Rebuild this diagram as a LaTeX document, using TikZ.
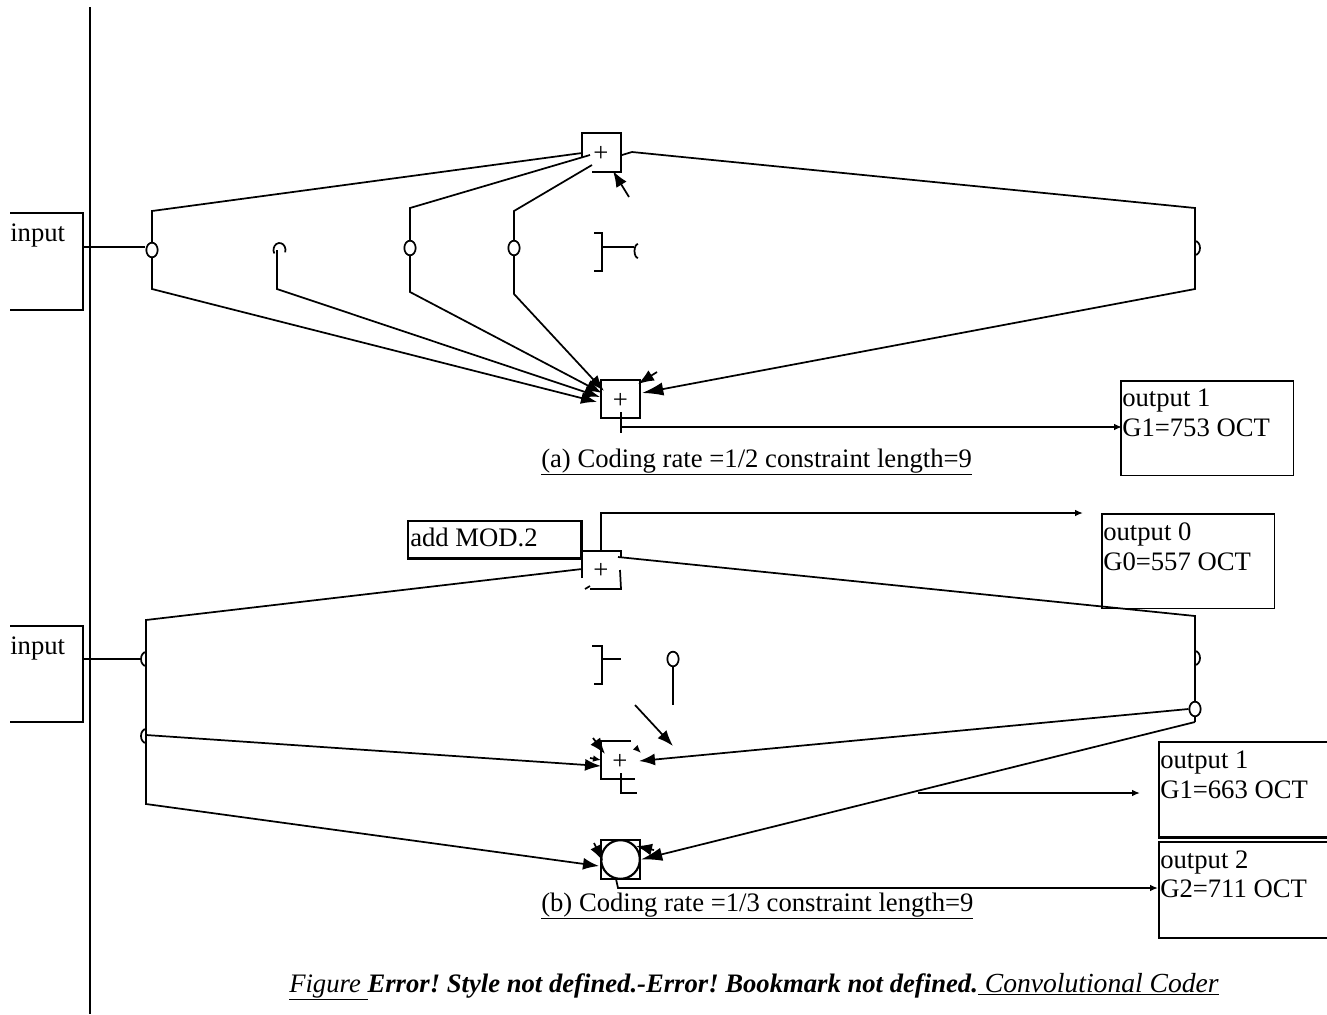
\documentclass[tikz,border=0pt]{standalone}
\usepackage{fontspec}
\setmainfont{Liberation Serif}
\frenchspacing
\usetikzlibrary{shapes.geometric,arrows.meta}
\tikzset{
  x=0.75pt,y=-0.75pt,
  wire/.style={line width=1.3pt,line join=miter},
  bigarrow/.style={wire,-{Latex[length=16pt,width=10pt]}},
  midarrow/.style={wire,-{Latex[length=12pt,width=9pt]}},
  smallarrow/.style={wire,-{Latex[length=6pt,width=5pt]}},
  tap/.style={ellipse,draw,line width=1.3pt,fill=white,inner sep=0pt,minimum width=8.5pt,minimum height=11pt},
  lbltext/.style={inner sep=0pt,anchor=base west,yshift=-0.75pt,font=\fontsize{20}{22.5}\selectfont,align=left},
  outbox/.style={draw,line width=1.3pt,anchor=north west,inner sep=0pt},
  captext/.style={inner sep=0pt,anchor=base west,yshift=-0.75pt,font=\fontsize{20}{22}\selectfont},
  plussign/.style={inner sep=0pt,font=\fontsize{20}{20}\selectfont},
}
\begin{document}
\begin{tikzpicture}
\useasboundingbox (0,0) rectangle (1327,1014);
\coordinate (railT) at (90,7); \coordinate (railB) at (90,1014);
\draw[wire] (railT) -- (railB);

% ---------- upper coder ----------
\coordinate (inAa) at (10,213); \coordinate (inAb) at (83,213); \coordinate (inAc) at (83,310); \coordinate (inAd) at (10,310);
\draw[wire] (inAa) -- (inAb) -- (inAc) -- (inAd);
\node[lbltext] (inAtxt) at (10,240) {input};
\node[tap] (a1) at (152,250) {};
\node[tap,draw=none,fill=none] (a2) at (277,250) {};
\node[tap] (a3) at (410,248) {};
\node[tap] (a4) at (514,248) {};
\coordinate (inAw) at (83,247);
\draw[wire] (inAw) -- (a1.west |- inAw);
\draw[wire] (274.3,253.5) arc[start angle=150,end angle=380,x radius=6,y radius=7];
\draw[wire] (1195,241) arc[start angle=-90,end angle=90,x radius=5,y radius=7];

\node[plussign] (pA) at (601,154) {+};
\coordinate (bAtl) at (582,133); \coordinate (bAtr) at (621,133); \coordinate (bAbr) at (621,172); \coordinate (bAbl) at (592,172); \coordinate (bAlb) at (582,157);
\draw[wire] (bAlb) -- (bAtl) -- (bAtr) -- (bAbr) -- (bAbl);
\coordinate (fbA) at (629,197); \coordinate (fbAe) at (613,171);
\draw[midarrow] (fbA) -- (fbAe);
\coordinate (t1) at (152,211); \coordinate (t3) at (410,208); \coordinate (t4) at (514,211);
\coordinate (u1) at (582,153); \coordinate (u3) at (590,155); \coordinate (u4) at (592,165);
\draw[wire] (a1.north) -- (t1) -- (u1);
\draw[wire] (a3.north) -- (t3) -- (u3);
\draw[wire] (a4.north) -- (t4) -- (u4);

\coordinate (rA0) at (622,155); \coordinate (rA1) at (632,152); \coordinate (rA2) at (1195,208); \coordinate (rA3) at (1195,289); \coordinate (rA4) at (642,393);
\draw[bigarrow] (rA0) -- (rA1) -- (rA2) -- (rA3) -- (rA4);

\coordinate (brAa) at (594,233); \coordinate (brAb) at (602,233); \coordinate (brAc) at (602,271); \coordinate (brAd) at (594,271);
\draw[wire] (brAa) -- (brAb) -- (brAc) -- (brAd);
\coordinate (brAm) at (602,247); \coordinate (brAe) at (634,247);
\draw[wire] (brAm) -- (brAe);
\draw[wire] (638,244) arc[start angle=270,end angle=90,x radius=3.5,y radius=7];

\node[draw,line width=1.3pt,minimum width=29pt,minimum height=28.5pt,inner sep=0pt] (sA) at (620.5,399) {};
\node[plussign] at (620.5,401) {+};
\coordinate (b1) at (152,289); \coordinate (b2) at (277,289); \coordinate (b3) at (410,292); \coordinate (b4) at (514,294);
\coordinate (v1) at (597,402); \coordinate (v2) at (600,397); \coordinate (v3) at (602,393); \coordinate (v4) at (604,391);
\draw[midarrow] (a1.south) -- (b1) -- (v1);
\draw[midarrow] (a2.center) -- (b2) -- (v2);
\draw[midarrow] (a3.south) -- (b3) -- (v3);
\draw[midarrow] (a4.south) -- (b4) -- (v4);
\coordinate (fbBs) at (657,372); \coordinate (fbBe) at (638,384);
\draw[midarrow] (fbBs) -- (fbBe);
\coordinate (stA) at (621,412); \coordinate (stAe) at (621,433);
\draw[wire] (stA) -- (stAe);
\node[outbox,minimum width=129.5pt,minimum height=71pt] (o1) at (1120,380) {};
\coordinate (oAs) at (621,427); \coordinate (oAe) at (1122,427);
\draw[smallarrow] (oAs) -- (oAe);
\node[lbltext] at (1122,405) {output 1};
\node[lbltext] at (1122,435) {G1=753 OCT};
\node[captext] at (541,466) {\underline{(a) Coding rate =1/2 constraint length=9}};

% ---------- lower coder ----------
\node[outbox,line width=1.8pt,minimum width=130pt,minimum height=28pt] (mod) at (407,520) {};
\node[lbltext] at (410,545) {add MOD.2};
\coordinate (upS) at (601,551); \coordinate (upC) at (601,513); \coordinate (upE) at (1083,513);
\draw[smallarrow] (upS) -- (upC) -- (upE);
\node[outbox,minimum width=129.5pt,minimum height=71pt] (o0) at (1101,513) {};
\node[lbltext] at (1103,539) {output 0};
\node[lbltext] at (1103,569) {G0=557 OCT};

\coordinate (inBa) at (10,626); \coordinate (inBb) at (83,626); \coordinate (inBc) at (83,722); \coordinate (inBd) at (10,722);
\draw[wire] (inBa) -- (inBb) -- (inBc) -- (inBd);
\node[lbltext] at (10,653) {input};
\coordinate (inBw) at (83,659); \coordinate (inBe) at (141,659);
\draw[wire] (inBw) -- (inBe);
\draw[wire] (146,652) arc[start angle=270,end angle=90,x radius=5,y radius=7];
\draw[wire] (146,729) arc[start angle=270,end angle=90,x radius=5,y radius=7];

\node[plussign] (pB) at (601,571) {+};
\coordinate (bBa) at (582,578); \coordinate (bBb) at (582,551); \coordinate (bBc) at (621,551); \coordinate (bBd) at (621,558);
\draw[wire] (bBa) -- (bBb) -- (bBc) -- (bBd);
\coordinate (bBe) at (620,570); \coordinate (bBf) at (621,589); \coordinate (bBg) at (590,589);
\draw[wire] (bBe) -- (bBf) -- (bBg);
\coordinate (bBh) at (585,589); \coordinate (bBi) at (590,586);
\draw[wire] (bBh) -- (bBi);

\coordinate (lB0) at (582,569); \coordinate (lB1) at (146,620); \coordinate (lB2) at (146,804); \coordinate (lB3) at (599,866);
\draw[midarrow] (lB0) -- (lB1) -- (lB2) -- (lB3);
\node[tap] (rB) at (1195,709) {};
\coordinate (rB0) at (618,557); \coordinate (rB1) at (1195,616);
\draw[wire] (rB0) -- (rB1) -- (rB.north);
\draw[wire] (1195,651) arc[start angle=-90,end angle=90,x radius=5,y radius=7];
\coordinate (rB2) at (1195,722);
\draw[wire] (rB.south) -- (rB2);
\coordinate (lM0) at (146,735); \coordinate (lM1) at (601,766);
\draw[midarrow] (lM0) -- (lM1);
\coordinate (rM) at (639,761);
\draw[midarrow] (rB.west) -- (rM);

\coordinate (brBa) at (592,646); \coordinate (brBb) at (602,646); \coordinate (brBc) at (602,684); \coordinate (brBd) at (594,684);
\draw[wire] (brBa) -- (brBb) -- (brBc) -- (brBd);
\coordinate (brBm) at (602,659); \coordinate (brBe) at (621,659);
\draw[wire] (brBm) -- (brBe);
\node[tap] (mT) at (673,659) {};
\coordinate (mTe) at (673,705);
\draw[wire] (mT.south) -- (mTe);
\coordinate (dgS) at (635,705); \coordinate (dgE) at (673,746);
\draw[midarrow] (dgS) -- (dgE);

\node[plussign] (pC) at (620,762) {+};
\coordinate (cA) at (631,741); \coordinate (cB) at (601,741); \coordinate (cC) at (601,779); \coordinate (cD) at (635,779);
\draw[wire] (cA) -- (cB) -- (cC) -- (cD);
\coordinate (cE) at (621,773); \coordinate (cF) at (621,793); \coordinate (cG) at (637,793);
\draw[wire] (cE) -- (cF) -- (cG);
\coordinate (cH) at (593,738); \coordinate (cI) at (605,754); \coordinate (cJ) at (590,758); \coordinate (cK) at (601,760);
\draw[midarrow] (cH) -- (cI);
\draw[smallarrow] (cJ) -- (cK);
\coordinate (cL) at (638,750); \coordinate (cM) at (641,753);
\draw[smallarrow] (cL) -- (cM);
\coordinate (oBs) at (918,793); \coordinate (oBe) at (1140,793);
\draw[smallarrow] (oBs) -- (oBe);
\node[outbox,minimum width=127pt,minimum height=71pt] (o1b) at (1158,741) {};
\coordinate (dbl1) at (1158,838); \coordinate (dbl2) at (1327,838);
\draw[wire] (dbl1) -- (dbl2);
\node[lbltext] at (1160,767) {output 1};
\node[lbltext] at (1160,797) {G1=663 OCT};
\node[outbox,minimum width=127pt,minimum height=72pt] (o2) at (1158,841) {};
\node[lbltext] at (1160,867) {output 2};
\node[lbltext] at (1160,896) {G2=711 OCT};

\node[draw,line width=1.3pt,minimum width=29pt,minimum height=29pt,inner sep=0pt] (sC) at (620.5,859.5) {};
\node[circle,draw,fill=white,line width=1.6pt,minimum size=29pt,inner sep=0pt] (cc) at (620.5,859.5) {};
\draw[bigarrow] (rB2) -- (cc.east);
\coordinate (ccL) at (594,843); \coordinate (ccLe) at (603,861);
\draw[midarrow] (ccL) -- (ccLe);
\coordinate (ccN) at (654,850); \coordinate (ccNe) at (636,846);
\draw[midarrow] (ccN) -- (ccNe);
\coordinate (ccS) at (616,879); \coordinate (ccT) at (618,888); \coordinate (ccE) at (1158,888);
\draw[smallarrow] (ccS) -- (ccT) -- (ccE);
\node[captext] at (541,910) {\underline{(b) Coding rate =1/3 constraint length=9}};

\node[captext,font=\fontsize{20}{22}\selectfont\itshape] at (289,991) {\underline{Figure\ }\textbf{Error! Style not defined.-Error! Bookmark not defined.}\fontsize{20.7}{22}\selectfont\underline{\ Convolutional Coder}};
\end{tikzpicture}
\end{document}
